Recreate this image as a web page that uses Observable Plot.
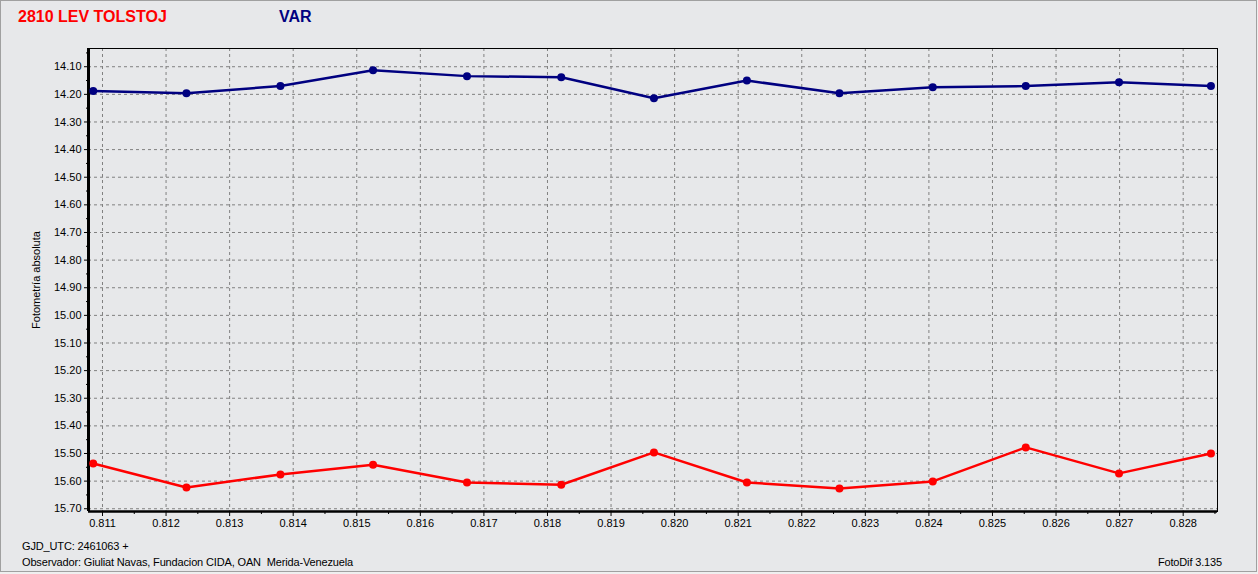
<!DOCTYPE html>
<html>
<head>
<meta charset="utf-8">
<script src="https://cdn.jsdelivr.net/npm/d3@7"></script>
<script src="https://cdn.jsdelivr.net/npm/@observablehq/plot@0.6"></script>
<style>
  html, body { margin: 0; padding: 0; background: #efefef; }
  #wrap { position: relative; width: 1258px; height: 574px; overflow: hidden; background: #efefef; }
  #frame { position: absolute; left: 0; top: 0; width: 1255px; height: 570px; border: 1px solid #a0a0a0; background: #e7e8ea; }
  #chart { position: absolute; left: 0; top: 0; }
  .t { position: absolute; white-space: pre; font-family: "Liberation Sans", Arial, sans-serif; }
  .title { font-size: 16px; font-weight: bold; top: 8px; }
  .small { font-size: 11px; color: #000; }
  .foot { letter-spacing: -0.15px; }
</style>
</head>
<body>
<div id="wrap">
  <div id="frame"></div>
  <div id="chart"></div>
  <div class="t title" style="left:18px; color:#ff0000;">2810 LEV TOLSTOJ</div>
  <div class="t title" style="left:279px; color:#000080;">VAR</div>
  <div class="t small" style="left:36px; top:280px; transform: translate(-50%,-50%) rotate(-90deg);">Fotometría absoluta</div>
  <div class="t small foot" style="left:22px; top:540px;">GJD_UTC: 2461063 +</div>
  <div class="t small foot" style="left:22px; top:556px;">Observador: Giuliat Navas, Fundacion CIDA, OAN  Merida-Venezuela</div>
  <div class="t small foot" style="right:36px; top:556px;">FotoDif 3.135</div>
</div>
<script>
// Data
const xs = [0.810854, 0.812321, 0.813799, 0.815256, 0.816734, 0.818217, 0.819675, 0.821137, 0.822593, 0.824061, 0.825524, 0.826991, 0.828437];
const varMag = [14.188, 14.196, 14.170, 14.113, 14.134, 14.138, 14.214, 14.150, 14.196, 14.174, 14.170, 14.156, 14.170];
const compMag = [15.536, 15.623, 15.576, 15.541, 15.605, 15.613, 15.496, 15.605, 15.627, 15.601, 15.478, 15.572, 15.500];
const xTicks = [0.811, 0.812, 0.813, 0.814, 0.815, 0.816, 0.817, 0.818, 0.819, 0.820, 0.821, 0.822, 0.823, 0.824, 0.825, 0.826, 0.827, 0.828];
const xMinor = [0.8115, 0.8125, 0.8135, 0.8145, 0.8155, 0.8165, 0.8175, 0.8185, 0.8195, 0.8205, 0.8215, 0.8225, 0.8235, 0.8245, 0.8255, 0.8265, 0.8275, 0.8285];
const yTicks = [14.10, 14.20, 14.30, 14.40, 14.50, 14.60, 14.70, 14.80, 14.90, 15.00, 15.10, 15.20, 15.30, 15.40, 15.50, 15.60, 15.70];
const yMinor = [14.05, 14.15, 14.25, 14.35, 14.45, 14.55, 14.65, 14.75, 14.85, 14.95, 15.05, 15.15, 15.25, 15.35, 15.45, 15.55, 15.65];
const xDomain = [0.81078, 0.82854];
const yDomain = [14.034, 15.71];

const varData = xs.map((x, i) => ({x, y: varMag[i]}));
const compData = xs.map((x, i) => ({x, y: compMag[i]}));

const blue = "#000080", red = "#ff0000";
const grid = {stroke: "#808080", strokeOpacity: 1, strokeWidth: 1, strokeDasharray: "3,3"};

const plot = Plot.plot({
  width: 1258,
  height: 574,
  marginLeft: 88,
  marginRight: 41,
  marginTop: 48,
  marginBottom: 63,
  style: {background: "transparent", fontFamily: "Liberation Sans, Arial, sans-serif", fontSize: "11px", color: "#000"},
  x: {domain: xDomain, label: null},
  y: {domain: yDomain, reverse: true, label: null},
  marks: [
    Plot.gridX(xTicks, grid),
    Plot.gridY(yTicks, grid),
    Plot.frame({stroke: "#000", strokeWidth: 1}),
    Plot.axisX(xMinor, {tickSize: 3, tickFormat: () => "", stroke: "#000", label: null}),
    Plot.axisX(xTicks, {tickSize: 5, tickPadding: 3, tickFormat: d3.format(".3f"), fontSize: 11, fill: "#000", label: null}),
    Plot.axisY(yMinor, {tickSize: 2, tickFormat: () => "", stroke: "#000", label: null}),
    Plot.axisY(yTicks, {tickSize: 4, tickPadding: 3, tickFormat: d3.format(".2f"), fontSize: 11, fill: "#000", label: null}),
    Plot.ruleX([xDomain[0]], {stroke: "#000", strokeWidth: 3}),
    Plot.ruleY([yDomain[1]], {stroke: "#000", strokeWidth: 2.5}),
    Plot.line(varData, {x: "x", y: "y", stroke: blue, strokeWidth: 2.5}),
    Plot.dot(varData, {x: "x", y: "y", fill: blue, r: 4, stroke: null}),
    Plot.line(compData, {x: "x", y: "y", stroke: red, strokeWidth: 2.5}),
    Plot.dot(compData, {x: "x", y: "y", fill: red, r: 4, stroke: null})
  ]
});
document.getElementById("chart").appendChild(plot);
</script>
</body>
</html>
